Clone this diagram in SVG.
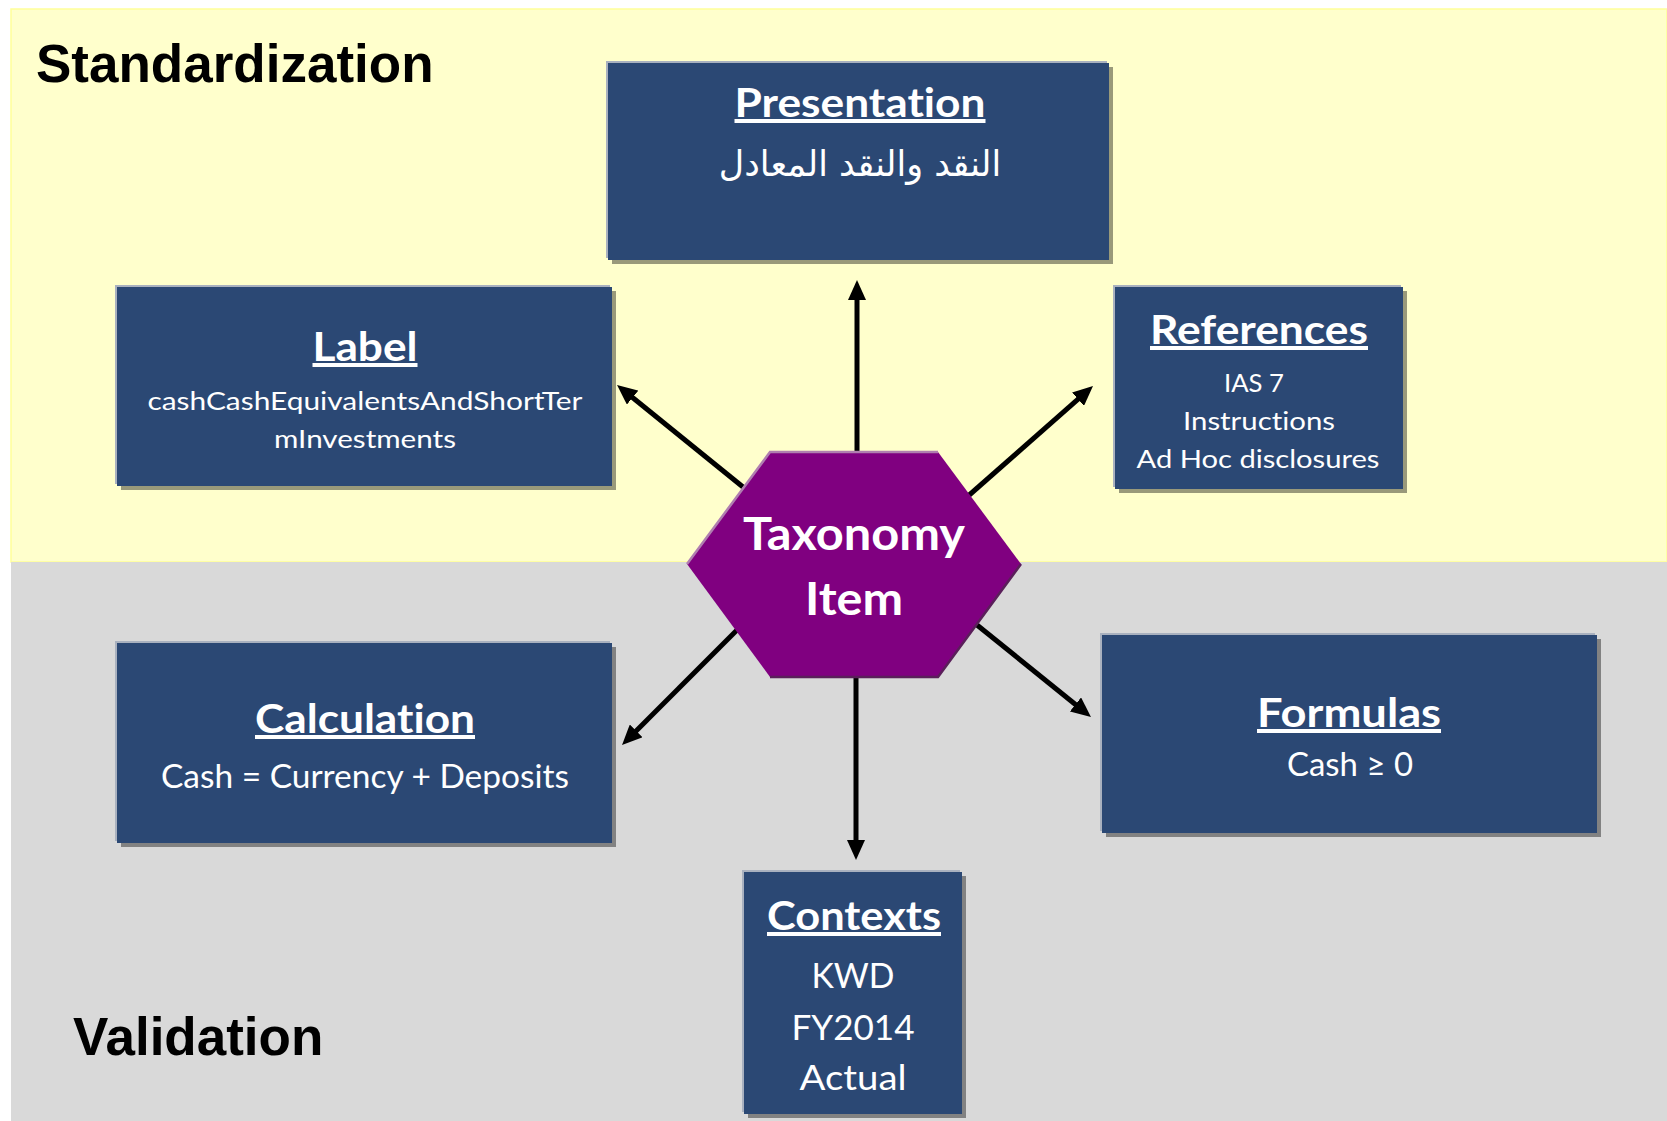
<svg xmlns="http://www.w3.org/2000/svg" width="1667" height="1121" viewBox="0 0 1667 1121">
<defs>
<style>
.band-title{font-family:"Liberation Sans",Arial,sans-serif;font-weight:bold;font-size:53px;fill:#000}
.box{fill:#2B4874}
.frame{fill:#A9B1BF}
.shadow{fill:#000;opacity:.4}
.t{font-family:Lato,"Open Sans",sans-serif;fill:#fff;text-anchor:middle;font-variant-ligatures:none}
.title{font-weight:bold;font-size:40px;text-decoration:underline}
.body-s{font-size:25px}
.body-m{font-size:32px}
.body-l{font-size:34px}
.ar{font-family:"DejaVu Sans","Noto Sans",sans-serif;fill:#fff;text-anchor:middle;font-size:35px}
.hex-t{font-family:Lato,"Open Sans",sans-serif;font-weight:bold;font-size:46px;fill:#fff;text-anchor:middle;font-variant-ligatures:none}
.conn{stroke:#000;stroke-width:5;fill:none;marker-end:url(#arrow)}
</style>
<marker id="arrow" viewBox="0 0 20 18" markerUnits="userSpaceOnUse" markerWidth="20" markerHeight="18" refX="10" refY="9" orient="auto">
<path d="M0,0 L20,9 L0,18 z" fill="#000"/>
</marker>
</defs>
<rect width="1667" height="1121" fill="#fff"/>
<g id="bands">
<rect x="11" y="9" width="1656" height="553" fill="#FFFFCC" stroke="#FFFF99" stroke-width="1.5"/>
<rect x="11" y="562" width="1656" height="559" fill="#D9D9D9"/>
<text class="band-title" x="36" y="82">Standardization</text>
<text class="band-title" x="73" y="1055">Validation</text>
</g>
<g id="connectors">
<path class="conn" d="M857,452 L857,290"/>
<path class="conn" d="M743,487 L624.8,391.3"/>
<path class="conn" d="M967,497 L1085.5,392.6"/>
<path class="conn" d="M737,630 L629.1,737.9"/>
<path class="conn" d="M856,677 L856,850"/>
<path class="conn" d="M977,625 L1083.2,710.7"/>
</g>
<g id="presentation">
<rect class="frame" x="606" y="61" width="501" height="197"/>
<rect class="shadow" x="612" y="67" width="501" height="197"/>
<rect class="box" x="608" y="63" width="501" height="197"/>
<text class="t title" x="860" y="117" textLength="251" lengthAdjust="spacingAndGlyphs">Presentation</text>
<text class="ar" x="860" y="176">النقد والنقد المعادل</text>
</g>
<g id="label">
<rect class="frame" x="115" y="285" width="495" height="199"/>
<rect class="shadow" x="121" y="291" width="495" height="199"/>
<rect class="box" x="117" y="287" width="495" height="199"/>
<text class="t title" x="365" y="361" textLength="105" lengthAdjust="spacingAndGlyphs">Label</text>
<text class="t body-s" x="365" y="410" textLength="435" lengthAdjust="spacingAndGlyphs">cashCashEquivalentsAndShortTer</text>
<text class="t body-s" x="365" y="448" textLength="182" lengthAdjust="spacingAndGlyphs">mInvestments</text>
</g>
<g id="references">
<rect class="frame" x="1113" y="285" width="288" height="202"/>
<rect class="shadow" x="1119" y="291" width="288" height="202"/>
<rect class="box" x="1115" y="287" width="288" height="202"/>
<text class="t title" x="1259" y="344" textLength="218" lengthAdjust="spacingAndGlyphs">References</text>
<text class="t body-s" x="1254" y="392" textLength="60" lengthAdjust="spacingAndGlyphs">IAS 7</text>
<text class="t body-s" x="1259" y="430" textLength="152" lengthAdjust="spacingAndGlyphs">Instructions</text>
<text class="t body-s" x="1258" y="468" textLength="243" lengthAdjust="spacingAndGlyphs">Ad Hoc disclosures</text>
</g>
<g id="taxonomy-item">
<polygon points="770,452 938,452 1021,564 938,677 770,677 687,564" fill="#800080"/>
<polyline points="687,564 770,452 938,452" fill="none" stroke="#B07EB0" stroke-width="2.5"/>
<polyline points="1021,564 938,677 770,677" fill="none" stroke="#5A1F5A" stroke-width="2.5"/>
<text class="hex-t" x="854" y="550" textLength="222" lengthAdjust="spacingAndGlyphs">Taxonomy</text>
<text class="hex-t" x="854" y="615" textLength="98" lengthAdjust="spacingAndGlyphs">Item</text>
</g>
<g id="calculation">
<rect class="frame" x="115" y="641" width="495" height="200"/>
<rect class="shadow" x="121" y="647" width="495" height="200"/>
<rect class="box" x="117" y="643" width="495" height="200"/>
<text class="t title" x="365" y="733" textLength="220" lengthAdjust="spacingAndGlyphs">Calculation</text>
<text class="t body-m" x="365" y="788" textLength="408" lengthAdjust="spacingAndGlyphs">Cash = Currency + Deposits</text>
</g>
<g id="formulas">
<rect class="frame" x="1100" y="633" width="495" height="198"/>
<rect class="shadow" x="1106" y="639" width="495" height="198"/>
<rect class="box" x="1102" y="635" width="495" height="198"/>
<text class="t title" x="1349" y="727" textLength="184" lengthAdjust="spacingAndGlyphs">Formulas</text>
<text class="t body-m" x="1350" y="776" textLength="126" lengthAdjust="spacingAndGlyphs">Cash ≥ 0</text>
</g>
<g id="contexts">
<rect class="frame" x="742" y="870" width="218" height="242"/>
<rect class="shadow" x="748" y="876" width="218" height="242"/>
<rect class="box" x="744" y="872" width="218" height="242"/>
<text class="t title" x="854" y="930" textLength="174" lengthAdjust="spacingAndGlyphs">Contexts</text>
<text class="t body-l" x="853" y="988" textLength="83" lengthAdjust="spacingAndGlyphs">KWD</text>
<text class="t body-l" x="853" y="1040" textLength="123" lengthAdjust="spacingAndGlyphs">FY2014</text>
<text class="t body-l" x="853" y="1090" textLength="107" lengthAdjust="spacingAndGlyphs">Actual</text>
</g>
</svg>
